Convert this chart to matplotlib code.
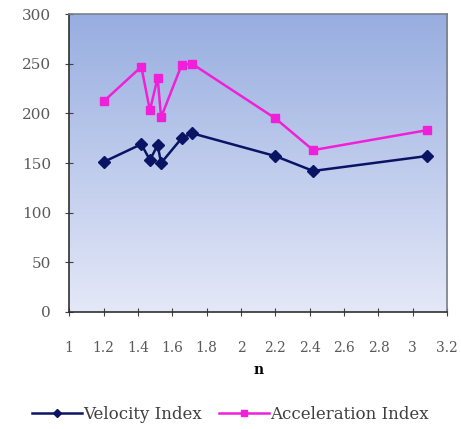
import matplotlib
matplotlib.use('Agg')
import matplotlib.pyplot as plt
from matplotlib.colors import LinearSegmentedColormap
import numpy as np

n = [1.2, 1.42, 1.47, 1.515, 1.535, 1.655, 1.715, 2.2, 2.42, 3.08]
velocity = [151, 169, 153, 168, 150, 175, 180, 157, 142, 157]
acceleration = [212, 247, 203, 236, 196, 249, 250, 195, 163, 183]

plt.rcParams['font.family'] = ['DejaVu Serif']

fig = plt.figure(figsize=(4.61, 4.29), dpi=100)
ax = fig.add_axes([0.150, 0.273, 0.820, 0.694])

# gradient background inside the plot area
grad = np.linspace(0, 1, 256).reshape(-1, 1)
cmap = LinearSegmentedColormap.from_list('bg', ['#e4e8f8', '#98aee0'])
ax.imshow(grad, cmap=cmap, aspect='auto', origin='lower',
          extent=[1, 3.2, 0, 300], zorder=0)

ax.plot(n, velocity, color='#0a1464', linewidth=1.8, marker='D',
        markersize=6.5, label='Velocity Index', zorder=3)
ax.plot(n, acceleration, color='#f020d8', linewidth=1.8, marker='s',
        markersize=6, label='Acceleration Index', zorder=3)

ax.set_xlim(1, 3.2)
ax.set_ylim(0, 300)
ax.set_xticks(np.arange(1, 3.21, 0.2))
ax.set_xticklabels(['1', '1.2', '1.4', '1.6', '1.8', '2', '2.2', '2.4',
                    '2.6', '2.8', '3', '3.2'])
ax.set_yticks(range(0, 301, 50))
ax.tick_params(axis='both', labelcolor='#5a5a5a',
               color='#404040', direction='inout', length=6)
ax.tick_params(axis='x', labelsize=10, pad=18)
ax.tick_params(axis='y', labelsize=11, pad=10)
for s in ax.spines.values():
    s.set_color('#7a7f8a')
    s.set_linewidth(1.2)
ax.spines['left'].set_color('#303030')
ax.spines['bottom'].set_color('#303030')

ax.set_xlabel('n', fontsize=10, fontweight='bold', labelpad=6)

fig.legend(loc='lower center', ncol=2, frameon=False, fontsize=12,
           bbox_to_anchor=(0.5, -0.02), handlelength=3.0, columnspacing=1.0,
           handletextpad=0.1, markerscale=0.7, labelcolor='#404040')

fig.savefig('out.png', dpi=100)
